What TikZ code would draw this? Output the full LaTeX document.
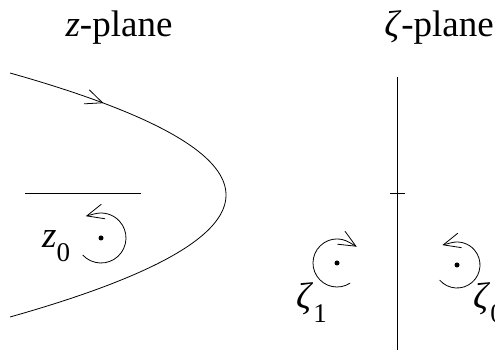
\documentclass[tikz,border=0pt]{standalone}
\usepackage{fontspec}
\setmainfont{Liberation Serif}
\usetikzlibrary{arrows.meta,decorations.markings}
\tikzset{
  ln/.style={line width=0.8pt},
  barb/.style={-{Straight Barb[length=17pt,width=15pt,line width=0.8pt]}},
  tipat/.style={postaction={decorate},decoration={markings,mark=at position #1 with {\arrow{Straight Barb[length=17pt,width=15pt,line width=0.8pt]}}}},
  dot/.style={circle,fill=black,inner sep=0pt,minimum size=5pt},
  lbl/.style={inner sep=0pt,font=\fontsize{37}{40}\selectfont},
}
\newcommand{\subdig}[1]{\raisebox{-0.36em}{\fontsize{27}{27}\selectfont #1}}
\begin{document}
\begin{tikzpicture}[x=1pt,y=1pt]
\useasboundingbox (0,0) rectangle (495,350);
% titles
\node[lbl,anchor=base] (tz) at (119,313) {\textit{z}-plane};
\node[lbl,anchor=base] (tzeta) at (439,313) {\textit{ζ}-plane};
% z-plane
\draw[ln,tipat=0.19]
  plot[domain=-122:122,samples=120,variable=\t] ({226-0.014512*\t*\t},{155-\t});
\coordinate (hl) at (25,157);
\coordinate (hr) at (141,157);
\draw[ln] (hl) -- (hr);
\node[dot] (d0) at (101,112) {};
\draw[ln,barb] (d0) ++(223:25) arc[start angle=223,end angle=465,radius=25] -- ++(195:9);
\node[lbl,anchor=base west] (z0) at (42,102) {\textit{z}\subdig{0}};
% zeta-plane
\coordinate (vt) at (397,273);
\coordinate (vb) at (397,0);
\draw[ln] (vt) -- (vb);
\coordinate (tl) at (390,157);
\coordinate (tr) at (405,157);
\draw[ln] (tl) -- (tr);
\node[dot] (d1) at (337,87) {};
\draw[ln,barb] (d1) ++(-57:24) arc[start angle=-57,end angle=-300,radius=24] -- ++(-30:9);
\node[dot] (d2) at (457,85) {};
\draw[ln,barb] (d2) ++(221:23) arc[start angle=221,end angle=465,radius=23] -- ++(195:9);
\node[lbl,anchor=base west] (l1) at (296,41) {\textit{ζ}\subdig{1}};
\node[lbl,anchor=base west] (l0) at (473,41) {\textit{ζ}\subdig{0}};
\end{tikzpicture}
\end{document}
